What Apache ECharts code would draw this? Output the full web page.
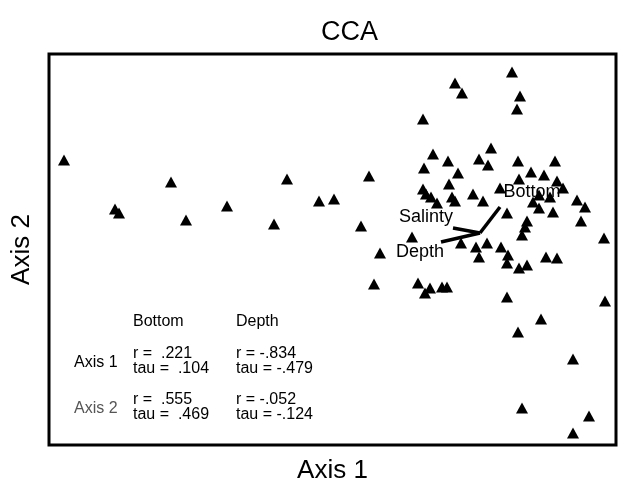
<!DOCTYPE html>
<html>
<head>
<meta charset="utf-8">
<script src="https://cdn.jsdelivr.net/npm/echarts@6/dist/echarts.min.js"></script>
<style>
  html, body { margin: 0; padding: 0; background: #fff; }
  #chart { width: 618px; height: 486px; }
</style>
</head>
<body>
<div id="chart"></div>
<script>
// site scores, axis 1 / axis 2
var sites = [
  [-4.16, 0.73], [-3.65, 0.24], [-3.61, 0.20], [-3.09, 0.51], [-2.94, 0.13],
  [-2.53, 0.27], [-2.06, 0.09], [-1.93, 0.54], [-1.61, 0.32], [-1.46, 0.34],
  [-1.19, 0.07], [-1.11, 0.57], [-1.06, -0.51], [-1.00, -0.20],
  [0.32, 1.61], [-0.25, 1.50], [-0.18, 1.40], [0.40, 1.37], [0.37, 1.24], [-0.57, 1.14],
  [0.11, 0.85], [-0.47, 0.79], [-0.32, 0.72], [-0.01, 0.74], [0.08, 0.68],
  [0.38, 0.72], [0.75, 0.72], [-0.56, 0.65], [-0.22, 0.60], [0.51, 0.61],
  [0.64, 0.58], [0.39, 0.54], [0.77, 0.52], [-0.31, 0.49], [0.83, 0.45],
  [0.20, 0.45], [-0.57, 0.44], [-0.54, 0.39], [-0.49, 0.36], [-0.43, 0.30],
  [-0.28, 0.36], [-0.25, 0.32], [-0.07, 0.39], [0.03, 0.32], [0.53, 0.31],
  [0.59, 0.38], [0.70, 0.36], [0.59, 0.25], [0.73, 0.21], [0.97, 0.33],
  [1.05, 0.26], [0.27, 0.20], [0.47, 0.12], [1.01, 0.12], [0.45, 0.06],
  [0.42, -0.02], [1.24, -0.05], [-0.68, -0.04], [-0.19, -0.10], [0.07, -0.10],
  [-0.04, -0.14], [-0.01, -0.24], [0.21, -0.14], [0.28, -0.22], [0.27, -0.30],
  [0.39, -0.35], [0.47, -0.32], [0.66, -0.24], [0.77, -0.25],
  [-0.62, -0.50], [-0.55, -0.60], [-0.50, -0.55], [-0.38, -0.54], [-0.33, -0.54],
  [0.27, -0.64], [1.25, -0.68], [0.61, -0.86], [0.38, -0.99], [0.93, -1.26],
  [0.42, -1.75], [1.09, -1.83], [0.93, -2.00]
];

// biplot vectors (end points, from origin) and label anchors
var vectorNames = ['Bottom', 'Salinty', 'Depth'];
var vectorEnds = [[0.20, 0.26], [-0.27, 0.05], [-0.39, -0.09]];
var labelAnchors = [[0.52, 0.41], [-0.54, 0.16], [-0.60, -0.19]];

// correlation table
var tableCols = ['Bottom', 'Depth'];
var tableRows = ['Axis 1', 'Axis 2'];
var rValues = [['.221', '-.834'], ['.555', '-.052']];
var tauValues = [['.104', '-.479'], ['.469', '-.124']];

var chart = echarts.init(document.getElementById('chart'));
var font = 'Liberation Sans, Arial, sans-serif';

var series = [{
  type: 'scatter',
  symbol: 'triangle',
  symbolSize: [12, 11],
  itemStyle: { color: '#000', opacity: 1 },
  data: sites,
  z: 3
}];

vectorEnds.forEach(function (end) {
  series.push({
    type: 'line',
    data: [[0, 0], end],
    showSymbol: false,
    lineStyle: { color: '#000', width: 3.5 },
    silent: true,
    z: 4
  });
});

series.push({
  type: 'scatter',
  symbolSize: 0,
  itemStyle: { opacity: 1 },
  data: labelAnchors.map(function (p, i) {
    return { value: p, name: vectorNames[i] };
  }),
  label: {
    show: true,
    position: 'inside',
    formatter: '{b}',
    color: '#000',
    fontSize: 18,
    fontFamily: font
  },
  z: 5
});

// table as text elements
var graphics = [];
var colX = [133, 236];
tableCols.forEach(function (c, j) {
  graphics.push({ type: 'text', left: colX[j], top: 314,
    style: { text: c, font: '16px ' + font, fill: '#000' } });
});
var rowY = [346, 392];
tableRows.forEach(function (r, i) {
  graphics.push({ type: 'text', left: 74, top: rowY[i] + 9,
    style: { text: r, font: '16px ' + font, fill: i === 0 ? '#000' : '#555' } });
  tableCols.forEach(function (c, j) {
    var sp = j === 0 ? '  ' : ' ';
    graphics.push({ type: 'text', left: colX[j], top: rowY[i],
      style: { text: 'r =' + sp + rValues[i][j] + '\ntau =' + sp + tauValues[i][j],
        font: '16px ' + font, fill: '#000', lineHeight: 15 } });
  });
});

chart.setOption({
  animation: false,
  backgroundColor: '#fff',
  title: {
    text: 'CCA',
    left: 316,
    top: 14,
    textStyle: { fontSize: 27, fontWeight: 'normal', fontFamily: font, color: '#000' }
  },
  grid: {
    left: 49, right: 2, top: 54, bottom: 41,
    outerBoundsMode: 'none',
    show: true, borderColor: '#000', borderWidth: 3
  },
  xAxis: {
    type: 'value', min: -4.31, max: 1.36,
    name: 'Axis 1', nameLocation: 'middle', nameGap: 13,
    nameTextStyle: { fontSize: 26, fontFamily: font, color: '#000', verticalAlign: 'top' },
    axisLine: { show: false }, axisTick: { show: false },
    axisLabel: { show: false }, splitLine: { show: false }
  },
  yAxis: {
    type: 'value', min: -2.12, max: 1.79,
    name: 'Axis 2', nameLocation: 'middle', nameGap: 14,
    nameTextStyle: { fontSize: 26, fontFamily: font, color: '#000' },
    axisLine: { show: false }, axisTick: { show: false },
    axisLabel: { show: false }, splitLine: { show: false }
  },
  graphic: graphics,
  series: series
});
</script>
</body>
</html>
